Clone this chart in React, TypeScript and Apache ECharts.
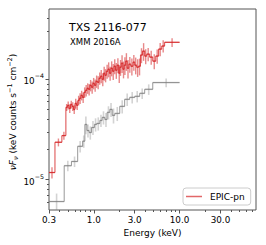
import React, { useEffect, useRef } from "react";
import * as echarts from "echarts";

// ---- data ----
const redEdges = [
  0.30, 0.352, 0.424, 0.472, 0.492, 0.513, 0.535, 0.556, 0.579, 0.602, 0.628, 0.652, 0.678,
  0.706, 0.736, 0.766, 0.798, 0.831, 0.865, 0.898, 0.937, 0.975, 1.016, 1.057, 1.10, 1.148,
  1.195, 1.246, 1.298, 1.344, 1.40, 1.46, 1.52, 1.58, 1.65, 1.72, 1.79, 1.87, 1.95, 2.01,
  2.09, 2.18, 2.26, 2.35, 2.45, 2.56, 2.70, 2.86, 3.00, 3.16, 3.33, 3.50, 3.70, 3.92, 4.14,
  4.48, 4.87, 5.28, 5.70, 6.20, 6.70, 10.0,
];
const redFlux = [
  1.18e-5, 2.36e-5, 2.75e-5, 5.25e-5, 5.5e-5, 5.13e-5, 5.62e-5, 5.37e-5, 5.0e-5, 5.75e-5,
  5.5e-5, 6.17e-5, 6.46e-5, 6.92e-5, 6.6e-5, 7.41e-5, 7.76e-5, 8.13e-5, 7.94e-5, 8.71e-5,
  8.32e-5, 9.12e-5, 8.71e-5, 9.55e-5, 9.33e-5, 1.023e-4, 1.072e-4, 1.0e-4, 1.148e-4, 1.096e-4,
  1.202e-4, 1.259e-4, 1.148e-4, 1.288e-4, 1.202e-4, 1.349e-4, 1.23e-4, 1.38e-4, 1.148e-4, 1.318e-4,
  1.445e-4, 1.259e-4, 1.38e-4, 1.514e-4, 1.288e-4, 1.413e-4, 1.349e-4, 1.479e-4, 1.38e-4, 1.318e-4,
  1.349e-4, 1.74e-4, 1.905e-4, 1.70e-4, 1.778e-4, 1.66e-4, 1.514e-4, 1.70e-4, 1.995e-4, 2.14e-4,
  2.33e-4,
];
const redErr = [
  0.13, 0.09, 0.09, 0.08, 0.09, 0.1, 0.09, 0.1, 0.1, 0.11,
  0.1, 0.11, 0.12, 0.11, 0.12, 0.12, 0.13, 0.12, 0.13, 0.13,
  0.14, 0.13, 0.14, 0.14, 0.15, 0.14, 0.15, 0.15, 0.16, 0.15,
  0.16, 0.17, 0.16, 0.17, 0.18, 0.17, 0.18, 0.17, 0.2, 0.18,
  0.2, 0.19, 0.2, 0.2, 0.21, 0.18, 0.19, 0.18, 0.19, 0.2,
  0.19, 0.17, 0.2, 0.17, 0.15, 0.16, 0.17, 0.16, 0.15, 0.14, 0.1,
];
const grayEdges = [
  0.30, 0.451, 0.548, 0.648, 0.74, 0.786, 0.83, 0.88, 0.94, 1.016, 1.08, 1.175, 1.25,
  1.344, 1.43, 1.536, 1.64, 1.756, 2.007, 2.29, 2.62, 3.0, 3.43, 3.92, 4.87, 10.0,
];
const grayFlux = [
  6.07e-6, 1.38e-5, 1.52e-5, 2.15e-5, 2.42e-5, 3.55e-5, 3.09e-5, 2.95e-5, 3.31e-5, 3.55e-5,
  3.63e-5, 3.89e-5, 4.17e-5, 3.98e-5, 4.68e-5, 5.01e-5, 4.37e-5, 4.57e-5, 5.37e-5, 6.31e-5,
  6.6e-5, 6.76e-5, 7.24e-5, 7.94e-5, 9.27e-5,
];
const grayErr = [
  0.2, 0.12, 0.12, 0.13, 0.14, 0.2, 0.15, 0.15, 0.16, 0.15,
  0.15, 0.14, 0.15, 0.16, 0.15, 0.16, 0.17, 0.16, 0.15, 0.14,
  0.13, 0.13, 0.12, 0.12, 0.1,
];
const xMajorTicks = [0.3, 1, 3, 10, 30];
const xMinorTicks = [0.4, 0.5, 0.6, 0.7, 0.8, 0.9, 2, 4, 5, 6, 7, 8, 9, 20, 40, 50, 60, 70];
const yMajorTicks = [1e-5, 1e-4];
const yMinorTicks = [
  6e-6, 7e-6, 8e-6, 9e-6, 2e-5, 3e-5, 4e-5, 5e-5, 6e-5, 7e-5, 8e-5, 9e-5, 2e-4, 3e-4, 4e-4,
];
const titleText = "TXS 2116-077";
const subtitleText = "XMM 2016A";
const seriesName = "EPIC-pn";
const xName = "Energy (keV)";

const FONT = "DejaVu Sans";
const RED = "#d62728";
const GRAY = "#808080";
const FRAME = "#555555";

function stepData(edges: number[], flux: number[]) {
  const out: number[][] = [];
  flux.forEach((f, i) => {
    out.push([edges[i], f]);
    out.push([edges[i + 1], f]);
  });
  return out;
}
function errData(edges: number[], flux: number[], err: number[]) {
  return flux.map((f, i) => [
    Math.sqrt(edges[i] * edges[i + 1]),
    f,
    edges[i],
    edges[i + 1],
    f * (1 - err[i]),
    f * (1 + err[i]),
  ]);
}
function errRender(color: string, opacity: number, width: number) {
  return (params: any, api: any) => {
    const l = api.coord([api.value(2), api.value(1)]);
    const r = api.coord([api.value(3), api.value(1)]);
    const b = api.coord([api.value(0), api.value(4)]);
    const t = api.coord([api.value(0), api.value(5)]);
    const style = { stroke: color, lineWidth: width, opacity };
    return {
      type: "group",
      children: [
        { type: "line", shape: { x1: l[0], y1: l[1], x2: r[0], y2: r[1] }, style },
        { type: "line", shape: { x1: b[0], y1: b[1], x2: t[0], y2: t[1] }, style },
      ],
    };
  };
}

const X_MIN = 0.2999;
const X_MAX = 78;
const Y_MIN = 5e-6;
const Y_MAX = 5e-4;

export default function App() {
  const ref = useRef<HTMLDivElement>(null);
  useEffect(() => {
    if (!ref.current) return;
    const chart = echarts.init(ref.current, undefined, { renderer: "svg" });
    const supLabel = (v: number) => {
      const e = Math.round(Math.log10(v));
      return `{b|10}{s|−${Math.abs(e)}}`;
    };
    chart.setOption({
      animation: false,
      backgroundColor: "#fff",
      grid: {
        left: 49,
        top: 9,
        width: 207,
        height: 201,
        show: true,
        borderColor: FRAME,
        borderWidth: 1,
        backgroundColor: "transparent",
      },
      xAxis: [
        {
          type: "log",
          position: "bottom",
          min: X_MIN,
          max: X_MAX,
          axisLine: { show: false },
          splitLine: { show: false },
          axisTick: { show: true, customValues: xMajorTicks, length: 3.5, lineStyle: { color: FRAME, width: 1 } },
          axisLabel: {
            customValues: xMajorTicks,
            formatter: (v: number) => Number(v).toFixed(1),
            fontSize: 8.8,
            fontFamily: FONT,
            color: "#000",
            margin: 5,
          },
          name: xName,
          nameLocation: "middle",
          nameGap: 18,
          nameTextStyle: { fontSize: 9, fontFamily: FONT, color: "#000" },
        },
        {
          type: "log",
          position: "bottom",
          min: X_MIN,
          max: X_MAX,
          axisLine: { show: false },
          splitLine: { show: false },
          axisTick: { show: true, customValues: xMinorTicks, length: 2, lineStyle: { color: FRAME, width: 1 } },
          axisLabel: { show: false },
        },
      ],
      yAxis: [
        {
          type: "log",
          position: "left",
          min: Y_MIN,
          max: Y_MAX,
          axisLine: { show: false },
          splitLine: { show: false },
          axisTick: { show: true, customValues: yMajorTicks, length: 3.5, lineStyle: { color: FRAME, width: 1 } },
          axisLabel: {
            customValues: yMajorTicks,
            formatter: supLabel,
            margin: 5,
            rich: {
              b: { fontSize: 8.8, fontFamily: FONT, color: "#000", lineHeight: 13, verticalAlign: "bottom" },
              s: { fontSize: 6.3, fontFamily: FONT, color: "#000", lineHeight: 8, verticalAlign: "top" },
            },
          },
        },
        {
          type: "log",
          position: "left",
          min: Y_MIN,
          max: Y_MAX,
          axisLine: { show: false },
          splitLine: { show: false },
          axisTick: { show: true, customValues: yMinorTicks, length: 2, lineStyle: { color: FRAME, width: 1 } },
          axisLabel: { show: false },
        },
      ],
      legend: {
        show: true,
        left: 183,
        top: 188,
        data: [{ name: seriesName, icon: "rect" }],
        itemWidth: 16,
        itemHeight: 1.5,
        itemStyle: { color: RED, opacity: 0.7 },
        textStyle: { fontSize: 9, fontFamily: FONT, color: "#000", padding: [0, 0, 0, 3] },
        backgroundColor: "rgba(255,255,255,0.8)",
        borderColor: "#cccccc",
        borderWidth: 1,
        borderRadius: 3,
        padding: [4, 6, 4, 3],
      },
      graphic: [
        {
          type: "text",
          x: 69,
          y: 27,
          style: { text: titleText, fontSize: 11, fontFamily: FONT, fill: "#000", align: "left", verticalAlign: "middle" },
        },
        {
          type: "text",
          x: 70,
          y: 42,
          style: { text: subtitleText, fontSize: 8.5, fontFamily: FONT, fill: "#000", align: "left", verticalAlign: "middle" },
        },
        {
          type: "text",
          x: 13,
          y: 112,
          rotation: Math.PI / 2,
          style: {
            text: "{i|νF}{u|ν}{n| (keV counts s}{p|−1}{n| cm}{p|−2}{n|)}",
            align: "center",
            verticalAlign: "middle",
            rich: {
              i: { fontSize: 9, fontFamily: FONT, fontStyle: "italic", fill: "#000", lineHeight: 13, verticalAlign: "middle" },
              u: { fontSize: 6.5, fontFamily: FONT, fontStyle: "italic", fill: "#000", lineHeight: 8, verticalAlign: "bottom" },
              n: { fontSize: 9, fontFamily: FONT, fill: "#000", lineHeight: 13, verticalAlign: "middle" },
              p: { fontSize: 6.5, fontFamily: FONT, fill: "#000", lineHeight: 8, verticalAlign: "top" },
            },
          },
        },
      ],
      series: [
        {
          type: "custom",
          name: "gray-err",
          xAxisIndex: 0,
          yAxisIndex: 0,
          clip: true,
          z: 1,
          data: errData(grayEdges, grayFlux, grayErr),
          encode: { x: 0, y: 1 },
          renderItem: errRender(GRAY, 0.35, 1.6),
        },
        {
          type: "line",
          name: "gray-step",
          xAxisIndex: 0,
          yAxisIndex: 0,
          showSymbol: false,
          symbol: "none",
          z: 2,
          data: stepData(grayEdges, grayFlux),
          lineStyle: { color: GRAY, width: 1, opacity: 0.8 },
          itemStyle: { color: GRAY },
        },
        {
          type: "custom",
          name: "red-err",
          xAxisIndex: 0,
          yAxisIndex: 0,
          clip: true,
          z: 3,
          data: errData(redEdges, redFlux, redErr),
          encode: { x: 0, y: 1 },
          renderItem: errRender(RED, 0.55, 1.4),
        },
        {
          type: "line",
          name: seriesName,
          xAxisIndex: 0,
          yAxisIndex: 0,
          showSymbol: false,
          symbol: "none",
          z: 4,
          data: stepData(redEdges, redFlux),
          lineStyle: { color: RED, width: 1, opacity: 0.85 },
          itemStyle: { color: RED },
        },
      ],
    });
    return () => chart.dispose();
  }, []);
  return (
    <div
      ref={ref}
      style={{ position: "fixed", left: 0, top: 0, width: 266, height: 245, background: "#fff" }}
    />
  );
}
